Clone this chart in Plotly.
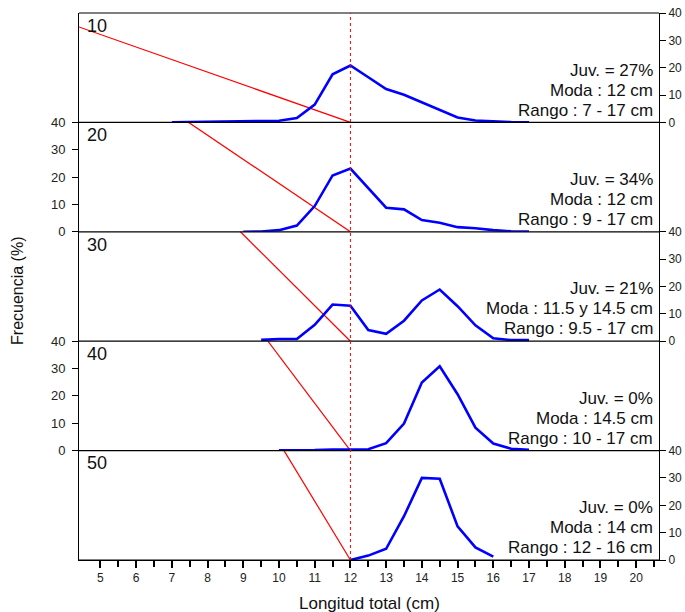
import plotly.graph_objects as go

# ---------------- data ----------------
panel_labels = ["10", "20", "30", "40", "50"]
x_tick_vals = list(range(5, 21))
x_minor_vals = [v + 0.5 for v in range(5, 21)]
y_tick_vals = [0, 10, 20, 30, 40]

x_p10 = [7, 7.5, 8, 8.5, 9, 9.5, 10, 10.5, 11, 11.5, 12, 12.5, 13, 13.5, 14, 14.5, 15, 15.5, 16, 16.5, 17]
y_p10 = [0, 0.1, 0.2, 0.3, 0.3, 0.3, 0.6, 1.6, 6.5, 17.6, 20.8, 16.5, 12.2, 10.1, 7.3, 4.6, 1.8, 0.7, 0.3, 0.1, 0.0]

x_p20 = [9, 9.5, 10, 10.5, 11, 11.5, 12, 12.5, 13, 13.5, 14, 14.5, 15, 15.5, 16, 16.5, 17]
y_p20 = [0, 0.1, 0.6, 2.3, 9.4, 20.6, 23.1, 16.1, 8.8, 8.2, 4.3, 3.3, 1.7, 1.3, 0.6, 0.2, 0.1]

x_p30 = [9.5, 10, 10.5, 11, 11.5, 12, 12.5, 13, 13.5, 14, 14.5, 15, 15.5, 16, 16.5, 17]
y_p30 = [0.5, 0.8, 0.8, 6.0, 13.4, 13.0, 4.1, 2.7, 7.5, 14.9, 18.9, 12.8, 5.8, 1.1, 0.4, 0.4]

x_p40 = [10, 10.5, 11, 11.5, 12, 12.5, 13, 13.5, 14, 14.5, 15, 15.5, 16, 16.5, 17]
y_p40 = [0.1, 0.1, 0.2, 0.4, 0.5, 0.5, 2.7, 9.9, 24.9, 30.8, 20.6, 8.4, 2.6, 0.7, 0.3]

x_p50 = [12, 12.5, 13, 13.5, 14, 14.5, 15, 15.5, 16]
y_p50 = [0, 1.6, 4.1, 16.0, 30.0, 29.7, 12.3, 4.6, 1.2]

juv_text = ["Juv. = 27%", "Juv. = 34%", "Juv. = 21%", "Juv. = 0%", "Juv. = 0%"]
moda_text = ["Moda : 12 cm", "Moda : 12 cm", "Moda : 11.5 y 14.5 cm", "Moda : 14.5 cm", "Moda : 14 cm"]
rango_text = ["Rango : 7 - 17 cm", "Rango : 9 - 17 cm", "Rango : 9.5 - 17 cm", "Rango : 10 - 17 cm", "Rango : 12 - 16 cm"]

red_x_start = [4.4, 7.47, 8.92, 9.69, 10.14]
red_y_start = [34.9, 40, 40, 40, 40]
moda_ref = 12

series_x = [x_p10, x_p20, x_p30, x_p40, x_p50]
series_y = [y_p10, y_p20, y_p30, y_p40, y_p50]

# ---------------- figure ----------------
FONT = "Arial, 'Liberation Sans', sans-serif"
n = len(panel_labels)
fig = go.Figure()
layout = dict(
    width=685, height=612,
    margin=dict(l=79, r=26, t=13, b=52),
    paper_bgcolor="white", plot_bgcolor="white",
    showlegend=False,
    font=dict(family=FONT, color="black"),
)

annotations = []
shapes = []
for k in range(n):
    yname = "y" if k == 0 else f"y{k+1}"
    ykey = "yaxis" if k == 0 else f"yaxis{k+1}"
    top = 1 - k / n
    bot = 1 - (k + 1) / n
    right = (k % 2 == 0)
    layout[ykey] = dict(
        domain=[bot, top], range=[0, 40], anchor="x",
        side="right" if right else "left",
        tickvals=y_tick_vals, ticks="outside", ticklen=6, tickwidth=1,
        tickcolor="black", showline=True, mirror=True, linecolor="black",
        linewidth=1, showgrid=False, zeroline=False, automargin=False,
        tickfont=dict(size=12 if right else 13, family=FONT, color="#222"),
        ticklabelstandoff=0 if right else 4, fixedrange=True,
    )
    # red slanted line
    fig.add_trace(go.Scatter(
        x=[red_x_start[k], moda_ref], y=[red_y_start[k], 0],
        mode="lines", line=dict(color="red", width=1.2),
        xaxis="x", yaxis=yname, hoverinfo="skip"))
    # blue frequency curve
    fig.add_trace(go.Scatter(
        x=series_x[k], y=series_y[k], mode="lines",
        line=dict(color="#0000FF", width=2.6),
        xaxis="x", yaxis=yname))
    # panel label
    annotations.append(dict(
        x=0.010, xref="paper", y=35.3, yref=yname, text=panel_labels[k],
        showarrow=False, xanchor="left", yanchor="middle",
        font=dict(size=18, family=FONT, color="#111")))
    for txt, yy in zip([juv_text[k], moda_text[k], rango_text[k]], [19.1, 11.8, 4.5]):
        annotations.append(dict(
            x=0.992, xref="paper", y=yy, yref=yname, text=txt,
            showarrow=False, xanchor="right", yanchor="middle", borderpad=0,
            font=dict(size=17, family=FONT, color="#111")))
    # horizontal boundary line
    shapes.append(dict(type="line", xref="paper", yref="paper",
                       x0=0, x1=1, y0=top, y1=top,
                       line=dict(color="black", width=1.2)))

shapes.append(dict(type="line", xref="paper", yref="paper",
                   x0=0, x1=1, y0=0, y1=0, line=dict(color="black", width=1.2)))
# red dotted vertical reference line
shapes.append(dict(type="line", xref="x", yref="paper",
                   x0=moda_ref, x1=moda_ref, y0=0, y1=1,
                   line=dict(color="red", width=1, dash="dot")))

layout["xaxis"] = dict(
    range=[4.4, 20.64], anchor=f"y{n}", domain=[0, 1],
    tickvals=x_tick_vals, ticktext=[str(v) for v in x_tick_vals],
    ticks="outside", ticklen=7, tickwidth=1.6, tickcolor="black",
    minor=dict(tickvals=x_minor_vals, ticks="outside", ticklen=6,
               tickwidth=1.6, tickcolor="black"),
    showline=True, linecolor="black", linewidth=1, automargin=False,
    showgrid=False, zeroline=False,
    tickfont=dict(size=12, family=FONT, color="#222"), fixedrange=True,
)

annotations.append(dict(
    x=0.5, xref="paper", y=-0.079, yref="paper", text="Longitud total (cm)",
    showarrow=False, xanchor="center", yanchor="middle",
    font=dict(size=17, family=FONT, color="#111")))
annotations.append(dict(
    x=-0.105, xref="paper", y=0.492, yref="paper", text="Frecuencia (%)",
    showarrow=False, xanchor="center", yanchor="middle", textangle=-90,
    font=dict(size=16, family=FONT, color="#111")))

layout["annotations"] = annotations
layout["shapes"] = shapes
fig.update_layout(**layout)
fig.write_html("out.html")
